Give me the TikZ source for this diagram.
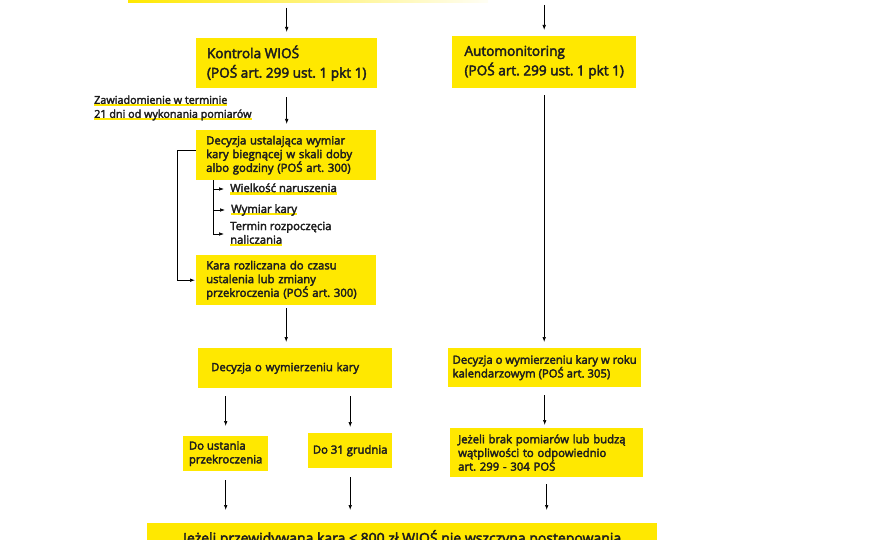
\documentclass[tikz,border=0pt]{standalone}
\usepackage{fontspec}
\setmainfont{Open Sans}[FakeBold=3]
\usetikzlibrary{arrows.meta,positioning}
\definecolor{wioyellow}{RGB}{255,232,0}
\definecolor{wiotext}{RGB}{30,30,30}
\newcommand{\ArrTip}{Latex[length=5,width=3.6]}
\newcommand{\SzHead}{\fontsize{13.6}{19.5}\selectfont}
\newcommand{\SzText}{\fontsize{11.3}{13.7}\selectfont}
\newcommand{\SzNote}{\fontsize{10.8}{14}\selectfont}
\newcommand{\HiLine}[1]{\setbox0\hbox{#1}\rlap{\color{wioyellow}\rule[-2.5pt]{\wd0}{2.2pt}}\box0}
\tikzset{box/.style={fill=wioyellow,text=wiotext,anchor=north west,align=left,inner ysep=3}}
\tikzset{flow/.style={-{\ArrTip},line width=.7,shorten <=7,shorten >=6}}
\tikzset{note/.style={text=wiotext,anchor=west,align=left,inner sep=0,font=\SzText}}
\frenchspacing

\begin{document}
\begin{tikzpicture}[x=1pt,y=-1pt]
\useasboundingbox (0,0) rectangle (880,540);
\clip (0,0) rectangle (880,540);
% top strip (cut off)
\node[box,anchor=south west,minimum width=360,minimum height=20,left color=wioyellow,right color=wioyellow!4] (zrodlo) at (128,3) {};
% left column
\node[box,minimum width=181,minimum height=50,font=\SzHead] (kontrola) at (196,38) {Kontrola WIOŚ\\(POŚ art. 299 ust. 1 pkt 1)};
\node[note,font=\SzNote] (zawiad) at (94,108) {\HiLine{Zawiadomienie w terminie}\\\HiLine{21 dni od wykonania pomiarów}};
\node[box,inner xsep=10,text width=160,minimum height=50,font=\SzText] (decyzja1) at (196,130) {Decyzja ustalająca wymiar\\kary biegnącej w skali doby\\albo godziny (POŚ art. 300)};
\node[note] (wielkosc) at (230,189) {\HiLine{Wielkość naruszenia}};
\node[note] (wymkary) at (231,210) {\HiLine{Wymiar kary}};
\node[note] (termin) at (230,234) {Termin rozpoczęcia\\\HiLine{naliczania}};
\node[box,inner xsep=10,text width=160,minimum height=50,font=\SzText] (kara) at (196,255) {Kara rozliczana do czasu\\ustalenia lub zmiany\\przekroczenia (POŚ art. 300)};
\node[box,inner xsep=13,text width=168,minimum height=40,font=\SzText] (wymiar) at (198,348) {Decyzja o wymierzeniu kary};
\node[box,minimum width=85,minimum height=35,font=\SzText] (ustania) at (183,436) {Do ustania\\przekroczenia};
\node[box,minimum width=84,minimum height=35,font=\SzText] (grudnia) at (308,433) {Do 31 grudnia};
% right column
\node[box,minimum width=184,minimum height=52,font=\SzHead] (automon) at (452,36) {Automonitoring\\(POŚ art. 299 ust. 1 pkt 1)};
\node[box,minimum width=193,minimum height=39,font=\SzText] (roku305) at (448,348) {Decyzja o wymierzeniu kary w roku\\kalendarzowym (POŚ art. 305)};
\node[box,inner xsep=8,text width=177,minimum height=49,font=\SzText] (jezeli) at (450,428) {Jeżeli brak pomiarów lub budzą\\wątpliwości to odpowiednio\\art. 299 - 304 POŚ};
% bottom strip (cut off)
\node[box,align=center,minimum width=510,minimum height=30,font=\fontsize{14}{18}\selectfont] (koniec) at (147,523) {Jeżeli przewidywana kara ≤ 800 zł WIOŚ nie wszczyna postępowania};
% connectors
\draw[flow,shorten <=5] (zrodlo.south -| kontrola.north) -- (kontrola.north);
\draw[flow,shorten <=2] (zrodlo.south -| automon.north) -- (automon.north);
\draw[flow,shorten <=9] (kontrola.south) -- (kontrola.south |- decyzja1.north);
\draw[flow,shorten <=0,shorten >=1] ([yshift=5]decyzja1.west) -- ++(-19,0) |- (kara.west);
\coordinate (galaz) at ([xshift=17]decyzja1.south west);
\draw[line width=.7] (galaz) -- (galaz |- termin.west);
\foreach \n in {wielkosc,wymkary,termin} \draw[flow,shorten <=0,shorten >=6] (galaz |- \n.west) -- (\n.west);
\draw[flow,shorten <=3] (kara.south) -- (kara.south |- wymiar.north);
\draw[flow,shorten <=8,shorten >=10] (ustania.north |- wymiar.south) -- (ustania.north);
\draw[flow,shorten <=8] (grudnia.north |- wymiar.south) -- (grudnia.north);
\draw[flow,shorten <=9,shorten >=13] (ustania.south) -- (ustania.south |- koniec.north);
\draw[flow,shorten <=9,shorten >=13] (grudnia.south) -- (grudnia.south |- koniec.north);
\draw[flow] (automon.south) -- (automon.south |- roku305.north);
\draw[flow,shorten <=8,shorten >=3] (roku305.south) -- (roku305.south |- jezeli.north);
\draw[flow,shorten >=13] (jezeli.south) -- (jezeli.south |- koniec.north);
\end{tikzpicture}
\end{document}
